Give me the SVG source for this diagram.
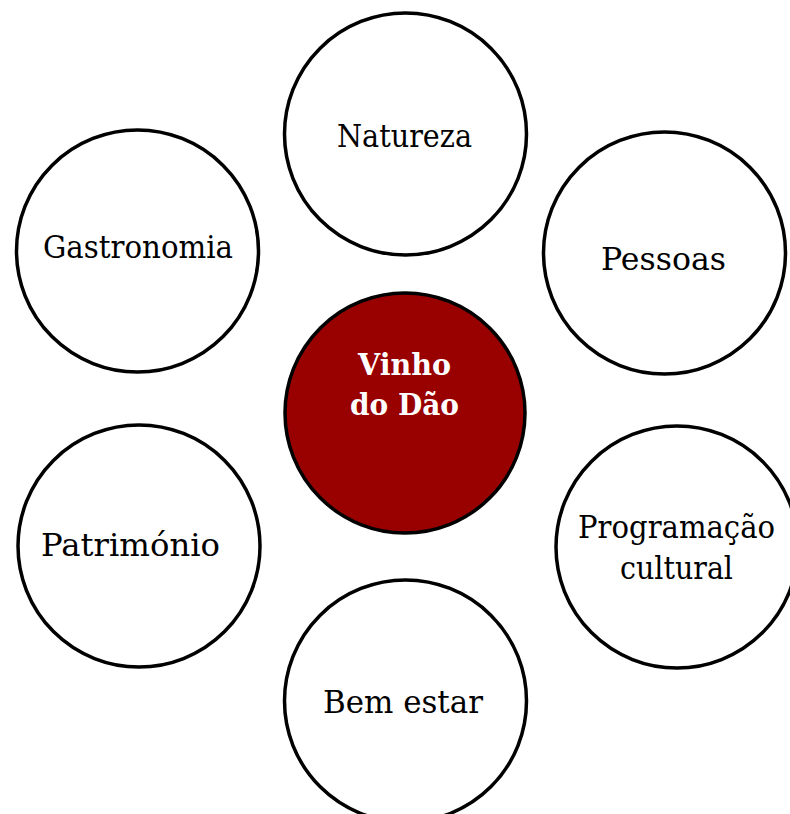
<svg xmlns="http://www.w3.org/2000/svg" width="790" height="814" viewBox="0 0 790 814">
<style>
.n{fill:#fff;stroke:#000;stroke-width:3.5}
.c{fill:#990000;stroke:#000;stroke-width:3.5}
.t{font-family:"DejaVu Serif","Liberation Serif",serif;font-size:31px;fill:#000}
.w{font-family:"DejaVu Serif","Liberation Serif",serif;font-size:30px;font-weight:bold;fill:#fff}
</style>
<rect width="790" height="814" fill="#fff"/>
<g id="connectors"></g>
<g id="natureza"><circle class="n" cx="405.5" cy="134" r="121"/><text class="t" x="337" y="147" textLength="135" lengthAdjust="spacingAndGlyphs">Natureza</text></g>
<g id="pessoas"><circle class="n" cx="664.5" cy="253" r="121"/><text class="t" x="601" y="270" textLength="125" lengthAdjust="spacingAndGlyphs">Pessoas</text></g>
<g id="gastronomia"><circle class="n" cx="137.5" cy="251" r="121"/><text class="t" x="43" y="258" textLength="190" lengthAdjust="spacingAndGlyphs">Gastronomia</text></g>
<g id="vinho"><circle class="c" cx="405" cy="413" r="120"/><text class="w" x="358" y="375" textLength="93" lengthAdjust="spacingAndGlyphs">Vinho</text><text class="w" x="350" y="415" textLength="109" lengthAdjust="spacingAndGlyphs">do Dão</text></g>
<g id="patrimonio"><circle class="n" cx="139" cy="546" r="121"/><text class="t" x="41" y="556" textLength="179" lengthAdjust="spacingAndGlyphs">Património</text></g>
<g id="programacao"><circle class="n" cx="677" cy="547" r="121"/><text class="t" x="578" y="538" textLength="197" lengthAdjust="spacingAndGlyphs">Programação</text><text class="t" x="620" y="579" textLength="113" lengthAdjust="spacingAndGlyphs">cultural</text></g>
<g id="bemestar"><circle class="n" cx="405.5" cy="701" r="121"/><text class="t" x="323" y="713" textLength="160" lengthAdjust="spacingAndGlyphs">Bem estar</text></g>
</svg>
